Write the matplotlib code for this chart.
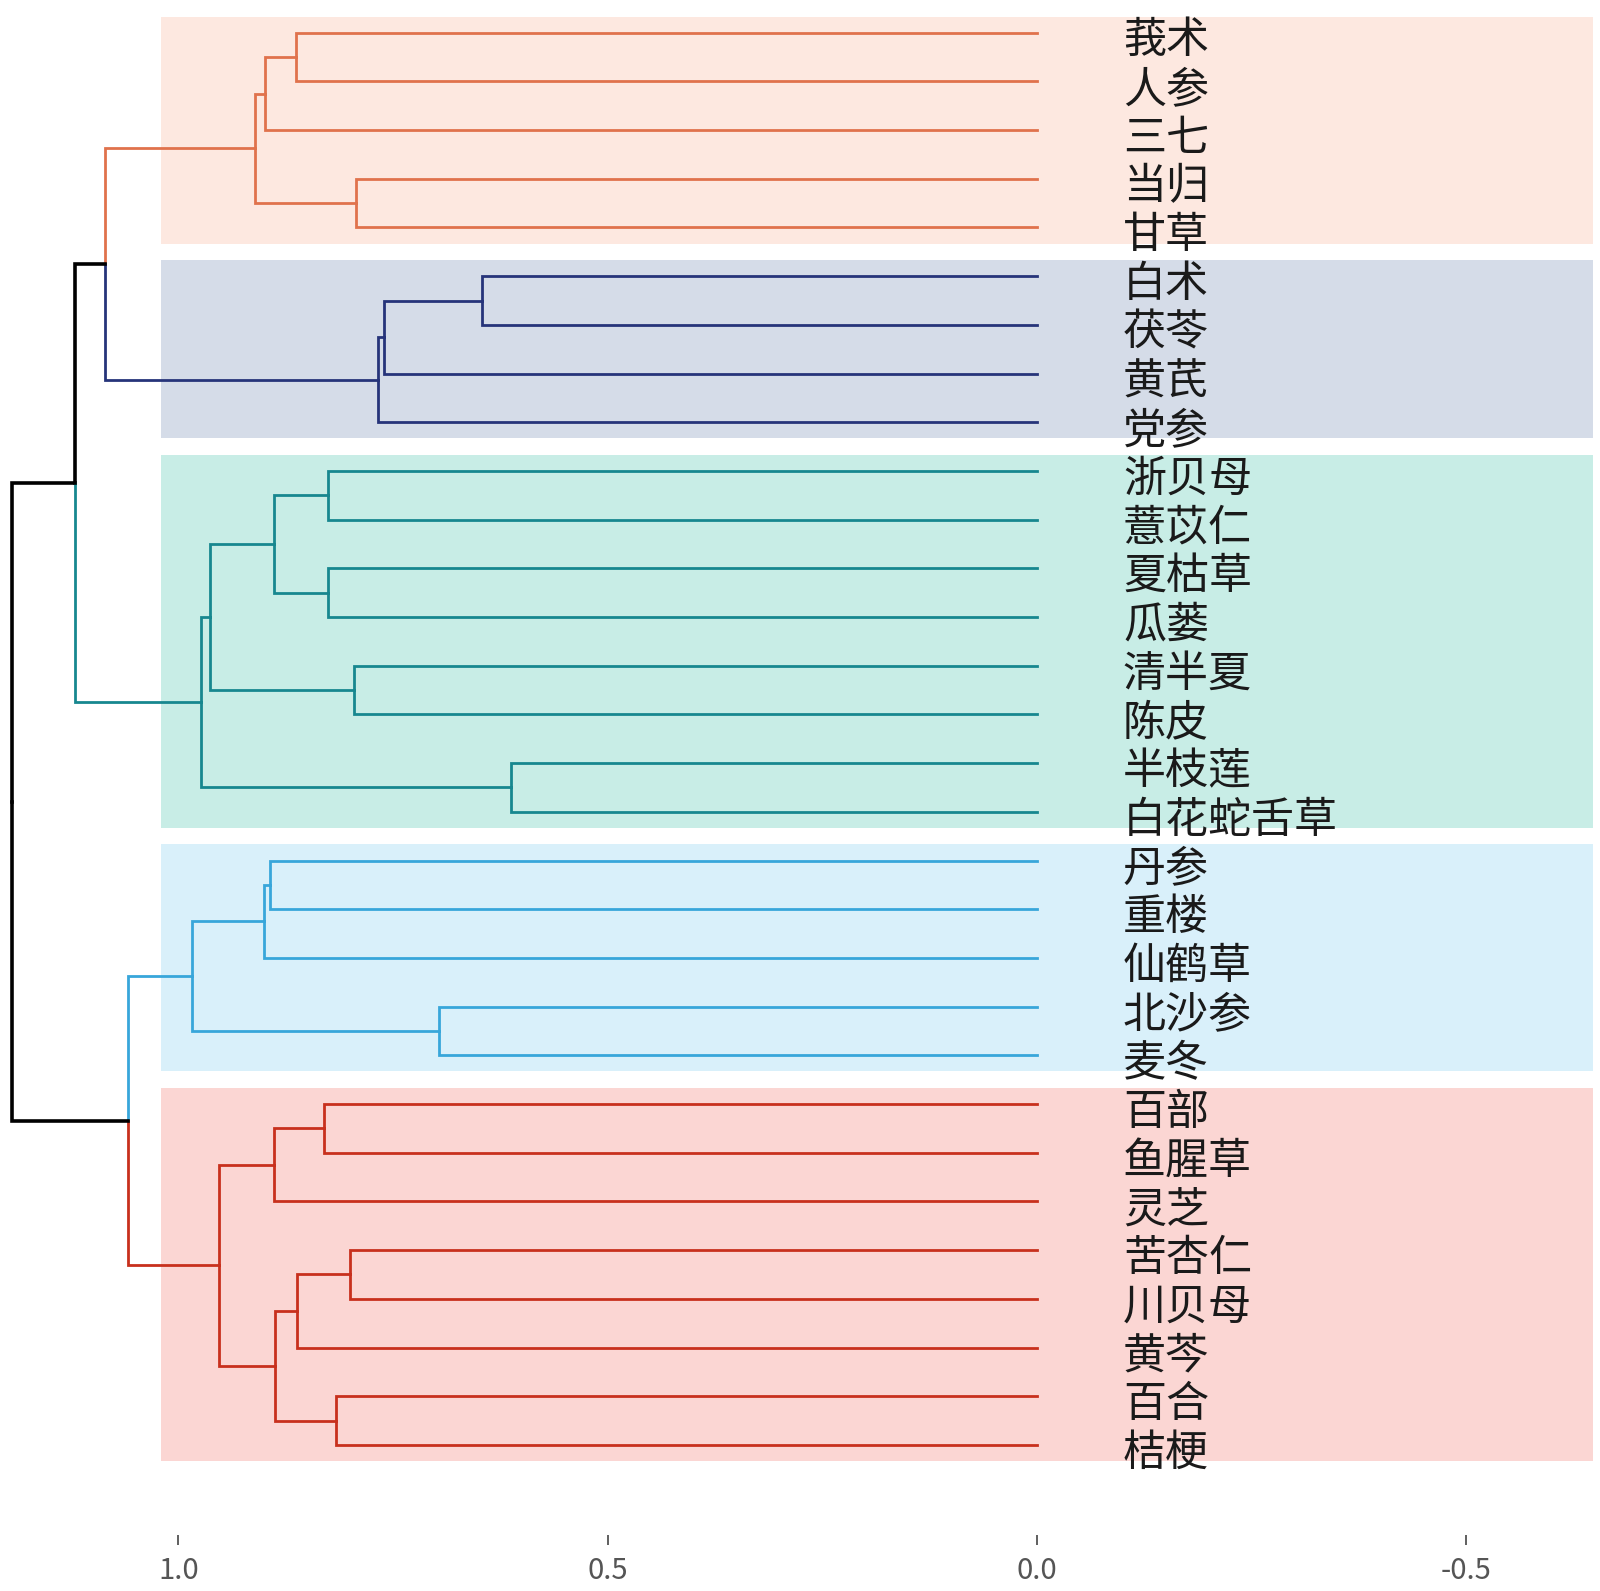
import numpy as np
import matplotlib.pyplot as plt
from matplotlib.patches import Rectangle

plt.rcParams['font.family'] = ['Noto Sans CJK SC', 'DejaVu Sans']

# leaf labels, top to bottom
labels = ['莪术', '人参', '三七', '当归', '甘草',
          '白术', '茯苓', '黄芪', '党参',
          '浙贝母', '薏苡仁', '夏枯草', '瓜蒌', '清半夏', '陈皮', '半枝莲', '白花蛇舌草',
          '丹参', '重楼', '仙鹤草', '北沙参', '麦冬',
          '百部', '鱼腥草', '灵芝', '苦杏仁', '川贝母', '黄芩', '百合', '桔梗']

# cluster id of each leaf
cluster = [0]*5 + [1]*4 + [2]*8 + [3]*5 + [4]*8

# merges: (child a, child b, height); node ids continue after the leaves (30, 31, ...)
merges = [
    (0, 1, 0.863), (30, 2, 0.899), (3, 4, 0.793), (31, 32, 0.911),
    (5, 6, 0.646), (34, 7, 0.761), (35, 8, 0.767), (33, 36, 1.0855),
    (9, 10, 0.826), (11, 12, 0.826), (38, 39, 0.889), (13, 14, 0.796),
    (40, 41, 0.963), (15, 16, 0.612), (42, 43, 0.974), (37, 44, 1.121),
    (17, 18, 0.893), (46, 19, 0.900), (20, 21, 0.697), (47, 48, 0.984),
    (22, 23, 0.831), (50, 24, 0.889), (25, 26, 0.800), (52, 27, 0.862),
    (28, 29, 0.816), (53, 54, 0.888), (51, 55, 0.953), (49, 56, 1.0594),
    (45, 57, 1.194),
]

line_colors = ['#e0724c', '#26347a', '#17878f', '#38a6da', '#c8301d']
bg_colors = ['#fde8e0', '#d5dce8', '#c8ede6', '#d9f0fa', '#fbd6d3']

n = len(labels)
ypos = {i: float(i) for i in range(n)}
xpos = {i: 0.0 for i in range(n)}
members = {i: {cluster[i]} for i in range(n)}
for k, (a, b, h) in enumerate(merges):
    node = n + k
    ypos[node] = (ypos[a] + ypos[b]) / 2
    xpos[node] = h
    members[node] = members[a] | members[b]

fig = plt.figure(figsize=(16, 15.91), dpi=100)
ax = fig.add_axes([0, 0.0352, 1, 0.9648])

# cluster background boxes
for c in range(5):
    idx = [i for i in range(n) if cluster[i] == c]
    y0 = min(idx) - 0.33
    y1 = max(idx) + 0.33
    ax.add_patch(Rectangle((1.0205, y0), -0.648 - 1.0205, y1 - y0,
                           facecolor=bg_colors[c], edgecolor='none', zorder=0))

# edges: parent -> child, coloured by the child's cluster
for k, (a, b, h) in enumerate(merges):
    node = n + k
    for ch in (a, b):
        if len(members[ch]) == 1:
            col = line_colors[list(members[ch])[0]]
            lw = 2.0
        else:
            col = 'black'
            lw = 2.6
        ax.plot([h, h, xpos[ch]], [ypos[node], ypos[ch], ypos[ch]],
                color=col, lw=lw, solid_joinstyle='miter', zorder=2)

for i, lab in enumerate(labels):
    ax.text(-0.1006, i + 0.18, lab, fontsize=31, va='center', ha='left',
            color='#1a1a1a', fontweight='light', zorder=3)

ax.set_xlim(1.208, -0.6565)
ax.set_ylim(30.85, -0.671)
for s in ax.spines.values():
    s.set_visible(False)
ax.set_yticks([])
ax.set_xticks([1.0, 0.5, 0.0, -0.5])
ax.set_xticklabels(['1.0', '0.5', '0.0', '-0.5'])
ax.tick_params(axis='x', length=7, width=1.2, color='#444444',
               labelcolor='#555555', labelsize=21, pad=8)

fig.savefig('out.png', dpi=100)
